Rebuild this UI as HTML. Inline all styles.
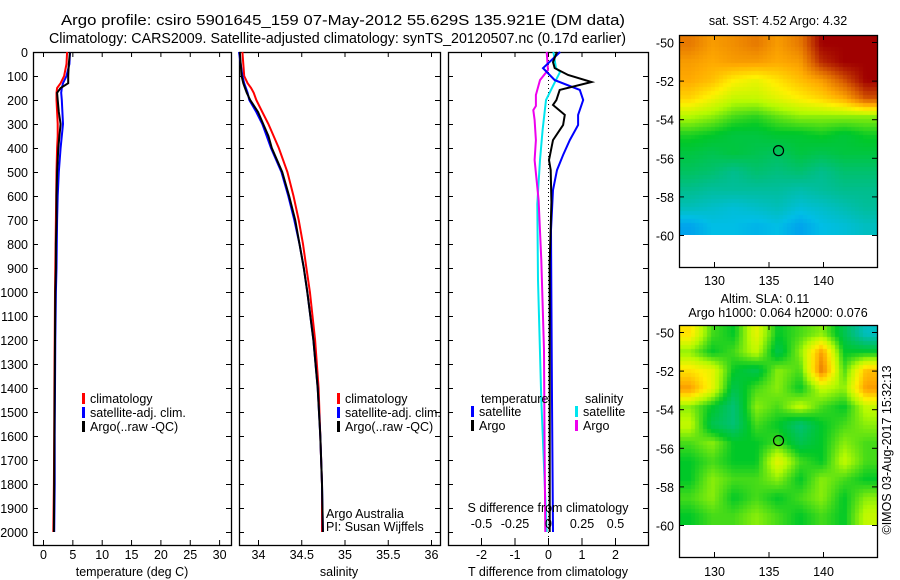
<!DOCTYPE html>
<html><head><meta charset="utf-8">
<style>
html,body{margin:0;padding:0;background:#fff;}
#wrap{position:relative;width:900px;height:580px;overflow:hidden;}
svg{position:absolute;left:0;top:0;}
text{font-family:"Liberation Sans",sans-serif;font-size:12.5px;fill:#000;}
canvas{position:absolute;}
</style></head>
<body>
<div id="wrap">
<canvas id="mapTop" style="left:679px;top:35px;" width="198" height="200"></canvas>
<canvas id="mapBot" style="left:679px;top:325px;" width="198" height="200"></canvas>
<svg id="chart" width="900" height="580"></svg>
</div>
<script>
// ---------- data ----------
const profDepths = [0,50,100,130,150,170,200,250,300,350,400,500,600,700,800,900,1000,1200,1400,1600,1800,2000];
const climTemp = [4.1,4.0,3.6,3.0,2.4,2.3,2.3,2.4,2.5,2.5,2.4,2.3,2.25,2.2,2.15,2.1,2.05,2.0,1.95,1.9,1.85,1.75];
const satTemp  = [4.6,4.5,4.0,3.4,3.2,3.1,3.2,3.3,3.4,3.2,3.0,2.7,2.5,2.4,2.35,2.3,2.2,2.1,2.05,2.0,2.0,1.9];
const argoTemp = [4.6,4.4,4.3,4.3,3.0,2.4,2.5,2.7,3.0,2.8,2.6,2.4,2.3,2.3,2.2,2.2,2.1,2.05,2.0,1.95,1.9,1.85];
const climSal = [33.82,33.83,33.84,33.88,33.92,33.95,33.98,34.05,34.12,34.18,34.24,34.34,34.41,34.47,34.52,34.56,34.6,34.66,34.7,34.72,34.74,34.74];
const satSal  = [33.78,33.8,33.82,33.84,33.86,33.88,33.9,33.98,34.05,34.1,34.15,34.27,34.35,34.42,34.48,34.53,34.57,34.64,34.69,34.72,34.74,34.75];
const argoSal = [33.79,33.8,33.81,33.83,33.85,33.87,33.91,34.0,34.06,34.12,34.16,34.28,34.36,34.43,34.48,34.53,34.57,34.64,34.69,34.72,34.74,34.75];
const satTDiffDepths = [0,67,117,158,200,262,304,367,429,492,575,742,1033,1450,2000];
const satTDiff = [0.36,-0.15,0.2,0.95,1.05,0.9,0.9,0.65,0.45,0.27,0.15,0.09,0.1,0.12,0.15];
const argoTDiffDepths = [0,42,67,96,125,158,200,221,262,304,367,450,492,625,880,1400,2000];
const argoTDiff = [0.27,0.15,0.2,0.6,1.3,0.35,0.25,0.15,0.5,0.45,0.15,0.03,0.08,0.1,0.05,0.05,0.05];
const satSDiffDepths = [0,67,83,138,200,325,450,633,950,1450,2000];
const satSDiff = [0.04,0.06,0.09,0.04,-0.015,-0.04,-0.06,-0.08,-0.075,-0.05,-0.01];
const argoSDiffDepths = [0,75,117,179,225,242,283,367,450,617,867,1242,1658,2000];
const argoSDiff = [-0.01,0,-0.06,-0.09,-0.09,-0.11,-0.1,-0.09,-0.1,-0.07,-0.05,-0.03,-0.025,-0.02];
const depthTicks = [0,100,200,300,400,500,600,700,800,900,1000,1100,1200,1300,1400,1500,1600,1700,1800,1900,2000];
const tempTicks = [0,5,10,15,20,25,30];
const salTicks = [34,34.5,35,35.5,36];
const tDiffTicks = [-2,-1,0,1,2];
const sDiffTicks = [-0.5,-0.25,0,0.25,0.5];
const mapLonTicks = [130,135,140];
const mapLatTicks = [-50,-52,-54,-56,-58,-60];
const argoLon = 135.921, argoLat = -55.629;
const sstGrid = [
[.85,.8,.82,.85,.8,.85,1,1,1],
[.8,.78,.8,.8,.78,.8,.95,1,1],
[.78,.75,.68,.65,.7,.75,.8,.9,1],
[.72,.66,.6,.6,.64,.68,.72,.78,.9],
[.58,.55,.5,.48,.52,.55,.55,.55,.55],
[.47,.45,.42,.42,.44,.44,.46,.43,.46],
[.42,.4,.42,.4,.38,.42,.4,.42,.42],
[.38,.36,.32,.36,.34,.36,.32,.36,.36],
[.32,.3,.3,.3,.3,.28,.3,.32,.32],
[.26,.24,.22,.24,.26,.22,.24,.27,.3],
[.15,.2,.2,.18,.2,.15,.2,.22,.25]];
const slaGrid = [
[.7,.5,.45,.65,.45,.5,.55,.4,.25],
[.55,.45,.5,.6,.4,.55,.8,.45,.45],
[.7,.65,.45,.4,.55,.5,.85,.5,.75],
[.8,.65,.4,.5,.55,.45,.6,.55,.8],
[.55,.45,.35,.55,.5,.6,.5,.45,.6],
[.6,.4,.35,.5,.45,.35,.45,.5,.55],
[.5,.55,.45,.45,.5,.4,.45,.55,.5],
[.45,.5,.45,.45,.65,.5,.45,.6,.5],
[.45,.55,.5,.5,.55,.45,.55,.5,.45],
[.5,.55,.45,.5,.45,.5,.55,.45,.55],
[.45,.5,.5,.55,.5,.45,.5,.45,.6]];

// ---------- scales ----------
const yD = d => 52 + d*0.24;
const xT = t => 43 + t*5.87;
const xS = s => 258 + (s-34)*86.5;
const xDT = t => 548 + t*33.5;
const xDS = s => 548 + s*134;
const xLon = lon => 714 + (lon-130)*10.9;
const yLatTop = lat => 42 + (-50-lat)*19.3;
const yLatBot = lat => 332 + (-50-lat)*19.3;

const svg = document.getElementById('chart');
const NS = 'http://www.w3.org/2000/svg';
function mk(tag, attrs, parent){const e=document.createElementNS(NS,tag);for(const k in attrs)e.setAttribute(k,attrs[k]);(parent||svg).appendChild(e);return e;}
function txt(x,y,s,anchor,parent){const e=mk('text',{x:x,y:y,'text-anchor':anchor||'start'},parent);e.textContent=s;return e;}

// titles
let t1=txt(61,25,'Argo profile: csiro 5901645_159 07-May-2012 55.629S 135.921E (DM data)','start');
t1.style.fontSize='14.5px';
t1.setAttribute('textLength','564');t1.setAttribute('lengthAdjust','spacingAndGlyphs');
let t2=txt(49,43,'Climatology: CARS2009. Satellite-adjusted climatology: synTS_20120507.nc (0.17d earlier)','start');
t2.style.fontSize='14.5px';
t2.setAttribute('textLength','577');t2.setAttribute('lengthAdjust','spacingAndGlyphs');

function panel(name,x0,x1,y0,y1){
  const g=mk('g',{});
  
  
  const r=mk('rect',{x:x0+0.5,y:y0+0.5,width:x1-x0,height:y1-y0,fill:'none',stroke:'#000','stroke-width':1.3},g);
  
  
  return g;
}
function yTicks(g,x0,x1){
  depthTicks.forEach(d=>{const y=yD(d)+0.5;
    mk('line',{x1:x0,x2:x0+5,y1:y,y2:y,stroke:'#000'},g);
    mk('line',{x1:x1-5,x2:x1,y1:y,y2:y,stroke:'#000'},g);});
}
function xTicks(g,vals,f,y0,y1,labY){
  vals.forEach(v=>{const x=f(v)+0.5;
    mk('line',{x1:x,x2:x,y1:y0,y2:y0+5,stroke:'#000'},g);
    mk('line',{x1:x,x2:x,y1:y1-5,y2:y1,stroke:'#000'},g);
    if(labY)txt(x,labY,String(v),'middle',g);});
}
function line(g,xs,ds,fx,color,name,w){
  const pts=xs.map((v,i)=>fx(v).toFixed(1)+','+yD(ds[i]).toFixed(1)).join(' ');
  const p=mk('polyline',{points:pts,fill:'none',stroke:color,'stroke-width':w||2,'stroke-linejoin':'miter'},g);
  
  
}
function legendEntry(g,x,y,color,label){
  const e=mk('g',{},g);
  
  
  mk('rect',{x:x,y:y-10,width:3,height:11,fill:color},e);
  txt(x+8,y,label,'start',e);
}

// y-axis labels
const yl=mk('g',{});
depthTicks.forEach(d=>txt(28,yD(d)+5,String(d),'end',yl));

// Panel 1: temperature
const p1=panel('temperature-panel',33,231,52,545);
yTicks(p1,33,231);xTicks(p1,tempTicks,xT,52,545,559);
txt(132,576,'temperature (deg C)','middle',p1);
line(p1,climTemp,profDepths,xT,'#ff0000','clim-temp-line');
line(p1,satTemp,profDepths,xT,'#0000ff','sat-temp-line');
line(p1,argoTemp,profDepths,xT,'#000000','argo-temp-line');
legendEntry(p1,82,403,'#ff0000','climatology');
legendEntry(p1,82,417,'#0000ff','satellite-adj. clim.');
legendEntry(p1,82,431,'#000000','Argo(..raw -QC)');

// Panel 2: salinity
const p2=panel('salinity-panel',239,440,52,545);
yTicks(p2,239,440);xTicks(p2,salTicks,xS,52,545,559);
txt(339,576,'salinity','middle',p2);
line(p2,climSal,profDepths,xS,'#ff0000','clim-sal-line');
line(p2,satSal,profDepths,xS,'#0000ff','sat-sal-line');
line(p2,argoSal,profDepths,xS,'#000000','argo-sal-line');
legendEntry(p2,337,403,'#ff0000','climatology');
legendEntry(p2,337,417,'#0000ff','satellite-adj. clim.');
legendEntry(p2,337,431,'#000000','Argo(..raw -QC)');
txt(326,518,'Argo Australia','start',p2);
txt(326,531,'PI: Susan Wijffels','start',p2);

// Panel 3: differences
const p3=panel('difference-panel',448,648,52,545);
yTicks(p3,448,648);xTicks(p3,tDiffTicks,xDT,52,545,559);
mk('line',{x1:548.5,x2:548.5,y1:52,y2:545,stroke:'#000','stroke-dasharray':'1,3'},p3);
line(p3,satSDiff,satSDiffDepths,xDS,'#00e5ee','sat-sdiff-line');
line(p3,argoSDiff,argoSDiffDepths,xDS,'#ee00ee','argo-sdiff-line');
line(p3,satTDiff,satTDiffDepths,xDT,'#0000ff','sat-tdiff-line');
line(p3,argoTDiff,argoTDiffDepths,xDT,'#000000','argo-tdiff-line');
sDiffTicks.forEach(v=>{const x=xDS(v)+0.5;mk('line',{x1:x,x2:x,y1:538,y2:545,stroke:'#000'},p3);txt(x,528,String(v),'middle',p3);});
txt(548,512,'S difference from climatology','middle',p3);
txt(548,576,'T difference from climatology','middle',p3);
txt(481,403,'temperature','start',p3);
txt(585,403,'salinity','start',p3);
legendEntry(p3,471,416,'#0000ff','satellite');
legendEntry(p3,471,430,'#000000','Argo');
legendEntry(p3,575,416,'#00e5ee','satellite');
legendEntry(p3,575,430,'#ee00ee','Argo');

// ---------- maps ----------
const stops=[[0,[0,80,255]],[0.2,[0,190,230]],[0.32,[0,190,140]],[0.45,[0,200,40]],[0.58,[180,250,0]],[0.68,[255,240,0]],[0.78,[255,170,0]],[0.88,[220,100,0]],[1,[160,0,0]]];
function cmap(v){v=Math.max(0,Math.min(1,v));for(let i=1;i<stops.length;i++){if(v<=stops[i][0]){const a=stops[i-1],b=stops[i];const f=(v-a[0])/(b[0]-a[0]);return a[1].map((c,k)=>Math.round(c+(b[1][k]-c)*f));}}return stops[stops.length-1][1];}
function drawMap(id,grid){
  const cv=document.getElementById(id),ctx=cv.getContext('2d');
  const W=cv.width,H=cv.height,rows=grid.length,cols=grid[0].length,blk=4;
  for(let y=0;y<H;y+=blk)for(let x=0;x<W;x+=blk){
    const gx=Math.min(cols-1.001,Math.max(0,(x+blk/2)/W*cols-0.5)),gy=Math.min(rows-1.001,Math.max(0,(y+blk/2)/H*rows-0.5));
    const i=Math.floor(gx),j=Math.floor(gy),fx=gx-i,fy=gy-j;
    const v=grid[j][i]*(1-fx)*(1-fy)+grid[j][i+1]*fx*(1-fy)+grid[j+1][i]*(1-fx)*fy+grid[j+1][i+1]*fx*fy;
    const c=cmap(v);ctx.fillStyle='rgb('+c+')';ctx.fillRect(x,y,blk,blk);
  }
}
drawMap('mapTop',sstGrid);drawMap('mapBot',slaGrid);
function mapFrame(name,top,bot,yLat,labY){
  const g=panel(name,679,877,top,bot);
  mapLatTicks.forEach(l=>{const y=yLat(l)+0.5;mk('line',{x1:679,x2:684,y1:y,y2:y,stroke:'#000'},g);mk('line',{x1:872,x2:877,y1:y,y2:y,stroke:'#000'},g);txt(674,y+5,String(l),'end',g);});
  mapLonTicks.forEach(l=>{const x=xLon(l)+0.5;mk('line',{x1:x,x2:x,y1:top,y2:top+5,stroke:'#000'},g);mk('line',{x1:x,x2:x,y1:bot-5,y2:bot,stroke:'#000'},g);txt(x,labY,String(l),'middle',g);});
  const c=mk('circle',{cx:xLon(argoLon),cy:yLat(argoLat),r:5,fill:'none',stroke:'#000','stroke-width':1.2},g);
  
  return g;
}
mapFrame('sst-map-frame',35,267,yLatTop,285);
txt(778,25,'sat. SST: 4.52 Argo: 4.32','middle');
mapFrame('sla-map-frame',325,557,yLatBot,576);
txt(765,303,'Altim. SLA: 0.11','middle');
txt(778,317,'Argo h1000: 0.064 h2000: 0.076','middle');
const cr=txt(0,0,'©IMOS 03-Aug-2017 15:32:13','middle');
cr.setAttribute('transform','translate(891,450) rotate(-90)');

</script>
</body></html>
